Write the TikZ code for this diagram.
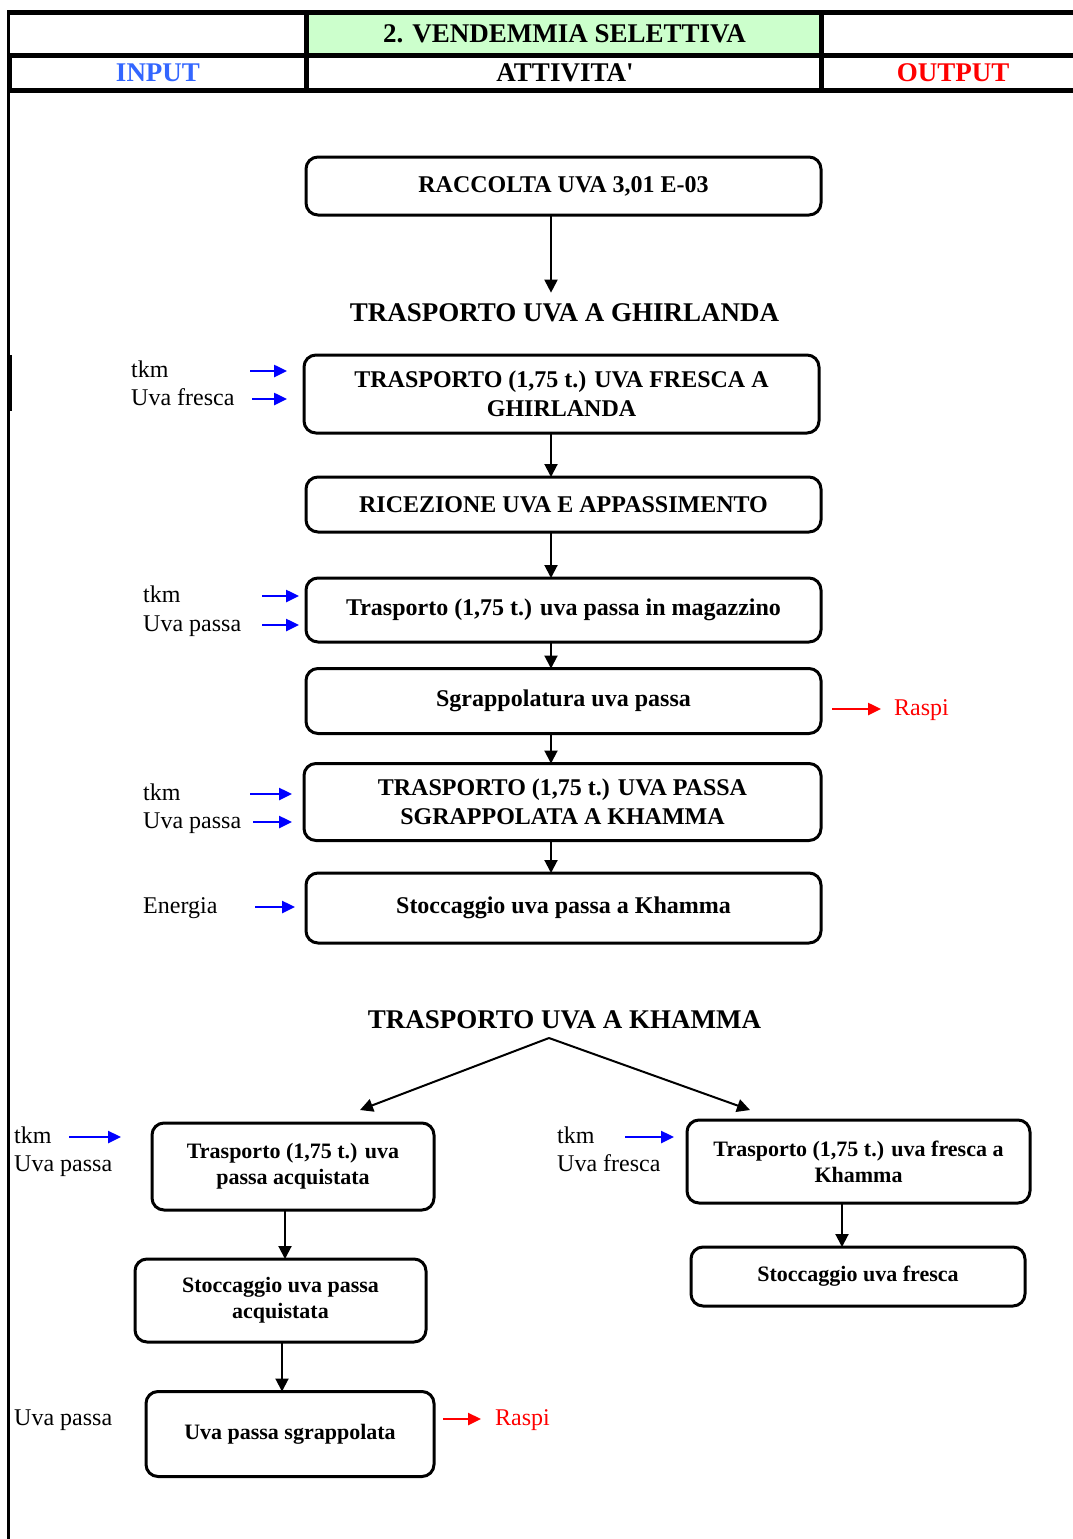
\documentclass[tikz,border=0pt]{standalone}
\usepackage{fontspec}
\setmainfont{Liberation Serif}
\usetikzlibrary{arrows.meta,calc}
\definecolor{headgreen}{HTML}{CCFFCC}
\definecolor{inblue}{HTML}{3366FF}
\begin{document}
\begin{tikzpicture}[x=1pt,y=-1pt,
  box/.style={draw, line width=3pt, rounded corners=12pt, outer sep=0pt, inner sep=0pt,
    align=center, font=\bfseries\fontsize{24}{29}\selectfont},
  sbox/.style={box, font=\bfseries\fontsize{22}{26}\selectfont},
  head/.style={inner sep=0pt, font=\bfseries\fontsize{27}{30}\selectfont},
  lbl/.style={anchor=west, inner sep=3pt, text height=17pt, text depth=5pt,
    font=\fontsize{24}{29}\selectfont},
  flow/.style={line width=2pt, -{Triangle[width=13pt,length=13pt]}},
  inarr/.style={blue, line width=2.5pt, -{Triangle[width=12pt,length=13pt]}},
  outarr/.style={red, line width=2.5pt, -{Triangle[width=12pt,length=13pt]}},
  grid/.style={line width=5pt}
]
\useasboundingbox (0,0) rectangle (1072,1539);

% ---- header table ----
\fill[headgreen] (306.5,12.5) rectangle (821.5,55);
\draw[grid] (7,12.5) -- (1080,12.5);
\draw[grid] (7,55) -- (1080,55);
\draw[grid] (7,90.5) -- (1080,90.5);
\draw[grid] (306.5,10) -- (306.5,93);
\draw[grid] (821.5,10) -- (821.5,93);
\draw[line width=2.5pt] (8.5,10) -- (8.5,1539);
\draw[line width=5pt] (9.5,55) -- (9.5,90.5);
\draw[line width=4pt] (9.5,355) -- (9.5,411);

\node[head] (title) at (564.5,34) {2. VENDEMMIA SELETTIVA};
\node[head, text=inblue] (hin) at (158,73) {INPUT};
\node[head] (hact) at (565,73) {ATTIVITA\textquotesingle};
\node[head, text=red] (hout) at (953,73) {OUTPUT};

% ---- main chain ----
\coordinate (ax) at (551,0);
\node[box, minimum width=515pt, minimum height=58pt] (b1) at (563.5,186) {RACCOLTA UVA 3,01 E-03};
\node[head] (h1) at (564.5,313) {TRASPORTO UVA A GHIRLANDA};
\node[box, minimum width=515pt, minimum height=78pt] (b2) at (561.5,394)
  {TRASPORTO (1,75 t.) UVA FRESCA A\\GHIRLANDA};
\node[box, minimum width=515pt, minimum height=55pt] (b3) at (563.5,504.5) {RICEZIONE UVA E APPASSIMENTO};
\node[box, minimum width=515pt, minimum height=64pt] (b4) at (563.5,610) {Trasporto (1,75 t.) uva passa in magazzino};
\node[box, minimum width=515pt, minimum height=65pt] (b5) at (563.5,701) {Sgrappolatura uva passa};
\node[box, minimum width=517pt, minimum height=77pt] (b6) at (562.5,802) 
  {TRASPORTO (1,75 t.) UVA PASSA\\SGRAPPOLATA A KHAMMA};
\node[box, minimum width=515pt, minimum height=70pt] (b7) at (563.5,908) {Stoccaggio uva passa a Khamma};

\draw[flow, shorten >=11pt] (b1.south -| ax) -- (h1.north -| ax);
\draw[flow] (b2.south -| ax) -- (b3.north -| ax);
\draw[flow] (b3.south -| ax) -- (b4.north -| ax);
\draw[flow] (b4.south -| ax) -- (b5.north -| ax);
\draw[flow] (b5.south -| ax) -- (b6.north -| ax);
\draw[flow] (b6.south -| ax) -- (b7.north -| ax);

% inputs of the main chain
\node[lbl] (t1) at (128,371) {tkm};
\node[lbl] (u1) at (128,399) {Uva fresca};
\node[lbl] (t2) at (140,596) {tkm};
\node[lbl] (u2) at (140,625) {Uva passa};
\node[lbl] (t3) at (140,794) {tkm};
\node[lbl] (u3) at (140,822) {Uva passa};
\node[lbl] (e4) at (140,907) {Energia};

\draw[inarr, shorten >=17pt] (250,0 |- t1) -- (t1 -| b2.west);
\draw[inarr, shorten >=17pt] (252,0 |- u1) -- (u1 -| b2.west);
\draw[inarr, shorten >=7pt] (262,0 |- t2) -- (t2 -| b4.west);
\draw[inarr, shorten >=7pt] (262,0 |- u2) -- (u2 -| b4.west);
\draw[inarr, shorten >=12pt] (250,0 |- t3) -- (t3 -| b6.west);
\draw[inarr, shorten >=12pt] (253,0 |- u3) -- (u3 -| b6.west);
\draw[inarr, shorten >=11pt] (255,0 |- e4) -- (e4 -| b7.west);

% output of the main chain
\node[lbl, text=red] (r1) at (891,709) {Raspi};
\draw[outarr, shorten <=11pt, shorten >=10pt] (b5.east |- r1) -- (r1.west);

% ---- transport to Khamma ----
\node[head] (h2) at (564.5,1020) {TRASPORTO UVA A KHAMMA};
\coordinate (split) at (549,1038);

\node[sbox, minimum width=282pt, minimum height=87pt] (l1) at (293,1166.5)
  {Trasporto (1,75 t.) uva\\passa acquistata};
\node[sbox, minimum width=291pt, minimum height=83pt] (l2) at (280.5,1300.5)
  {Stoccaggio uva passa\\acquistata};
\node[sbox, minimum width=288pt, minimum height=85pt] (l3) at (290,1434)
  {Uva passa sgrappolata};
\node[sbox, minimum width=343pt, minimum height=83pt] (r1b) at (858.5,1161.5)
  {Trasporto (1,75 t.) uva fresca a\\Khamma};
\node[sbox, minimum width=334pt, minimum height=59pt] (r2b) at (858,1276.5)
  {Stoccaggio uva fresca};

\draw[flow] (split) -- ($(l1.north)+(67,-13)$);
\draw[flow] (split) -- ($(r1b.north)+(-108.5,-10)$);

\draw[flow] (l1.south -| 285,0) -- (l2.north -| 285,0);
\draw[flow] (l2.south -| 282,0) -- (l3.north -| 282,0);
\draw[flow] (r1b.south -| 842,0) -- (r2b.north -| 842,0);

% inputs and output of the lower branches
\node[lbl] (t5) at (11,1137) {tkm};
\node[lbl] (u5) at (11,1165) {Uva passa};
\node[lbl] (t6) at (554,1137) {tkm};
\node[lbl] (u6) at (554,1165) {Uva fresca};
\node[lbl] (u7) at (11,1419) {Uva passa};

\draw[inarr, shorten >=31pt] (69,0 |- t5) -- (t5 -| l1.west);
\draw[inarr, shorten >=13pt] (625,0 |- t6) -- (t6 -| r1b.west);

\node[lbl, text=red] (r2) at (492,1419) {Raspi};
\draw[outarr, shorten <=9pt, shorten >=11pt] (l3.east |- r2) -- (r2.west);
\end{tikzpicture}
\end{document}
